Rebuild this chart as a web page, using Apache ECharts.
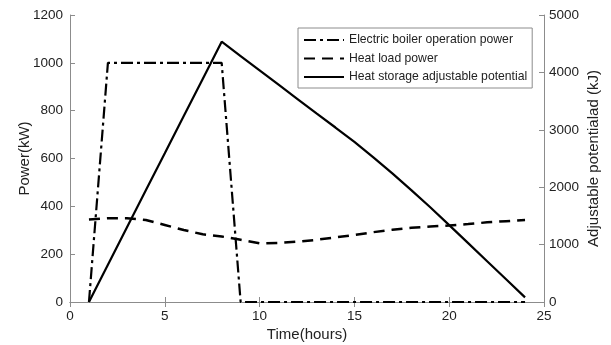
<!DOCTYPE html>
<html>
<head>
<meta charset="utf-8">
<script src="https://cdn.jsdelivr.net/npm/echarts@6/dist/echarts.min.js"></script>
<style>
  html, body { margin: 0; padding: 0; background: #fff; }
  #chart { width: 611px; height: 345px; }
</style>
</head>
<body>
<div id="chart"></div>
<script>
// hours 1..24
const hours = [1, 2, 3, 4, 5, 6, 7, 8, 9, 10, 11, 12, 13, 14, 15, 16, 17, 18, 19, 20, 21, 22, 23, 24]

// Electric boiler operation power (kW)
const boilerPower = [0, 1000, 1000, 1000, 1000, 1000, 1000, 1000, 0, 0, 0, 0, 0, 0, 0, 0, 0, 0, 0, 0, 0, 0, 0, 0]

// Heat load power (kW)
const heatLoad = [345, 350, 350, 343, 322, 301, 283, 274, 260, 245, 247, 252, 260, 270, 280, 292, 302, 310, 316, 320, 326, 333, 338, 343]

// Heat storage adjustable potential (kJ), right axis
const storagePotential = [0, 650, 1300, 1945, 2590, 3240, 3885, 4535, 4285, 4035, 3785, 3535, 3285, 3040, 2790, 2520, 2240, 1950, 1650, 1340, 1025, 710, 395, 80]

const seriesNames = ['Electric boiler operation power', 'Heat load power', 'Heat storage adjustable potential']

const pairs = vals => hours.map((h, i) => [h, vals[i]])

const axisGrey = '#8c8c8c'
const font = 'Liberation Sans, Arial, sans-serif'
const plain = v => String(v)

const chart = echarts.init(document.getElementById('chart'))

chart.setOption({
  animation: false,
  textStyle: { fontFamily: font, color: '#222' },
  grid: { left: 70, right: 67, top: 15, bottom: 43, outerBoundsMode: 'none' },
  legend: {
    data: seriesNames,
    orient: 'vertical',
    left: 298,
    top: 28,
    padding: [6, 5, 5, 5],
    itemWidth: 40,
    itemHeight: 10,
    itemGap: 6.5,
    itemStyle: { opacity: 0 },
    borderColor: '#8c8c8c',
    borderWidth: 1,
    backgroundColor: '#fff',
    textStyle: { fontFamily: font, fontSize: 12.2, color: '#222' }
  },
  xAxis: [
    {
      type: 'value',
      min: 0, max: 25, interval: 5,
      name: 'Time(hours)',
      nameLocation: 'middle',
      nameGap: 25,
      nameMoveOverlap: false,
      nameTextStyle: { fontSize: 15, color: '#222' },
      axisLine: { onZero: false, lineStyle: { color: axisGrey } },
      axisTick: { inside: true, length: 5, lineStyle: { color: axisGrey } },
      axisLabel: { fontSize: 13.5, color: '#222', margin: 7, formatter: plain },
      splitLine: { show: false }
    },
    {
      type: 'value',
      position: 'top',
      min: 0, max: 25, interval: 5,
      axisLine: { lineStyle: { color: axisGrey } },
      axisTick: { inside: true, length: 5, lineStyle: { color: axisGrey } },
      axisLabel: { show: false },
      splitLine: { show: false }
    }
  ],
  yAxis: [
    {
      type: 'value',
      min: 0, max: 1200, interval: 200,
      name: 'Power(kW)',
      nameLocation: 'middle',
      nameGap: 38,
      nameMoveOverlap: false,
      nameTextStyle: { fontSize: 15, color: '#222' },
      axisLine: { show: true, onZero: false, lineStyle: { color: axisGrey } },
      axisTick: { show: true, inside: true, length: 5, lineStyle: { color: axisGrey } },
      axisLabel: { fontSize: 13.5, color: '#222', margin: 7, formatter: plain },
      splitLine: { show: false }
    },
    {
      type: 'value',
      position: 'right',
      min: 0, max: 5000, interval: 1000,
      name: 'Adjustable potentialad (kJ)',
      nameLocation: 'middle',
      nameRotate: 90,
      nameGap: 42,
      nameMoveOverlap: false,
      nameTextStyle: { fontSize: 15, color: '#222' },
      axisLine: { show: true, onZero: false, lineStyle: { color: axisGrey } },
      axisTick: { show: true, inside: true, length: 5, lineStyle: { color: axisGrey } },
      axisLabel: { fontSize: 13.5, color: '#222', margin: 5, formatter: plain },
      splitLine: { show: false }
    }
  ],
  series: [
    {
      name: seriesNames[0],
      type: 'line',
      yAxisIndex: 0,
      data: pairs(boilerPower),
      symbol: 'none',
      lineStyle: { color: '#000', width: 2.2, type: [12, 4, 3, 4] },
      itemStyle: { color: '#000' },
      z: 3
    },
    {
      name: seriesNames[1],
      type: 'line',
      yAxisIndex: 0,
      data: pairs(heatLoad),
      symbol: 'none',
      lineStyle: { color: '#000', width: 2.5, type: [11, 7] },
      itemStyle: { color: '#000' },
      z: 2
    },
    {
      name: seriesNames[2],
      type: 'line',
      yAxisIndex: 1,
      data: pairs(storagePotential),
      symbol: 'none',
      lineStyle: { color: '#000', width: 2.2, type: 'solid' },
      itemStyle: { color: '#000' },
      z: 4
    }
  ]
})
</script>
</body>
</html>
